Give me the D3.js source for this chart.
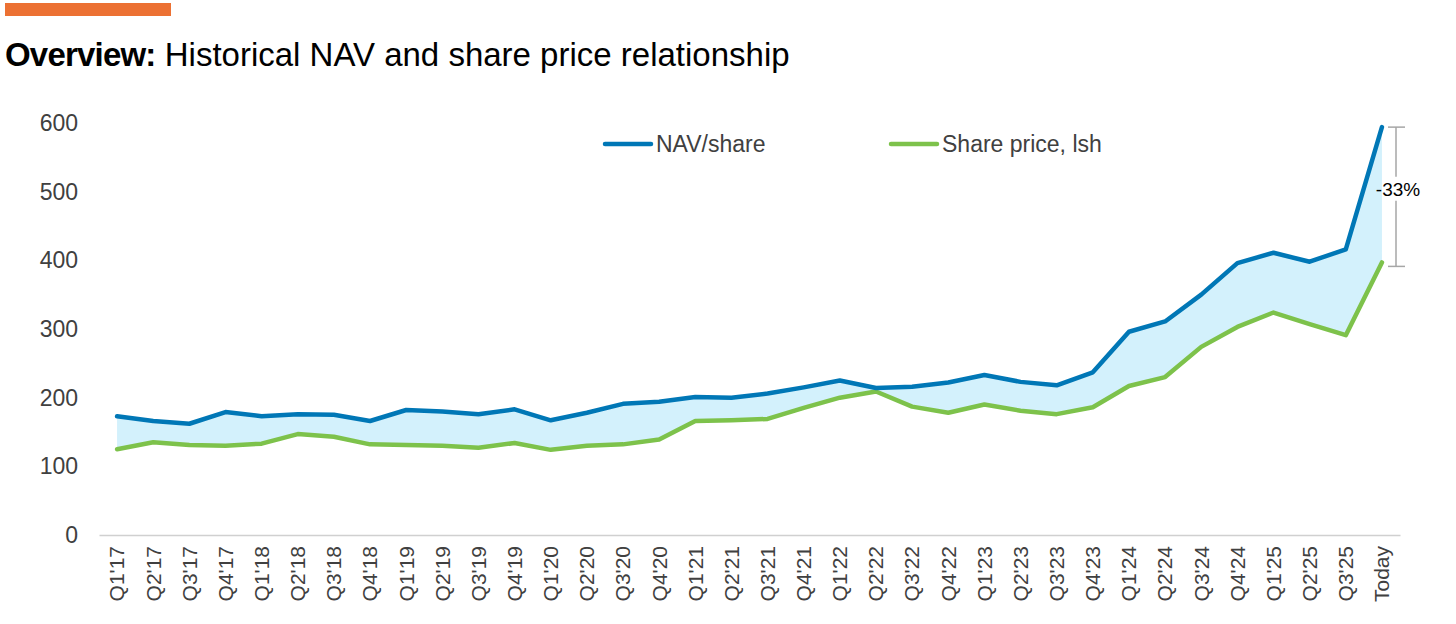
<!DOCTYPE html>
<html>
<head>
<meta charset="utf-8">
<script src="https://cdn.jsdelivr.net/npm/d3@7"></script>
<style>
    body { margin: 0; background: #fff; }
    svg { display: block; font-family: "Liberation Sans", Arial, sans-serif; }
</style>
</head>
<body>
<svg id="chart" width="1456" height="624"></svg>
<script>
// quarter labels on the x axis
var quarters = ["Q1'17","Q2'17","Q3'17","Q4'17","Q1'18","Q2'18","Q3'18","Q4'18",
    "Q1'19","Q2'19","Q3'19","Q4'19","Q1'20","Q2'20","Q3'20","Q4'20",
    "Q1'21","Q2'21","Q3'21","Q4'21","Q1'22","Q2'22","Q3'22","Q4'22",
    "Q1'23","Q2'23","Q3'23","Q4'23","Q1'24","Q2'24","Q3'24","Q4'24",
    "Q1'25","Q2'25","Q3'25","Today"];

// NAV per share
var navShare = [173,166,162,179,173,176,175,166,182,180,176,183,167,178,191,194,
    201,200,206,215,225,214,216,222,233,223,218,237,296,311,350,396,411,398,416,594];

// share price
var sharePrice = [125,135,131,130,133,147,143,132,131,130,127,134,124,130,132,139,
    166,167,169,185,200,209,187,178,190,181,176,186,217,230,274,303,324,307,291,397];

var yTicks = [0,100,200,300,400,500,600];
var discountLabel = "-33%";

var blue = "#0077b6";
var green = "#7dc24b";
var fill = "#d3f1fc";
var textColor = "#404040";

var svg = d3.select("#chart");

//orange bar and title
svg.append("rect")
    .attr("x", 5).attr("y", 3).attr("width", 166).attr("height", 13)
    .attr("fill", "#ec7133");

var title = svg.append("text")
    .attr("x", 5).attr("y", 66)
    .attr("font-size", 33)
    .attr("fill", "#000");
title.append("tspan").attr("font-weight", "bold").attr("letter-spacing", -0.8).text("Overview:");
title.append("tspan").text(" Historical NAV and share price relationship");

//scales
var x = d3.scaleBand()
    .domain(quarters)
    .range([99, 1400]);

var y = d3.scaleLinear()
    .domain([0, 600])
    .range([535, 123]);

var cx = d => x(d) + x.bandwidth() / 2;

//y axis labels (no axis line)
var yAxis = svg.append("g")
    .attr("transform", "translate(78,0)")
    .call(d3.axisLeft(y).tickValues(yTicks).tickSize(0).tickPadding(0));
yAxis.select(".domain").remove();
yAxis.selectAll("text")
    .attr("font-size", 23)
    .attr("fill", textColor)
    .attr("font-family", "Liberation Sans, Arial, sans-serif");

//x axis
var xAxis = svg.append("g")
    .attr("transform", "translate(0," + y(0) + ")")
    .call(d3.axisBottom(x).tickSize(0));
xAxis.select(".domain").attr("stroke", "#d0d0d0").attr("stroke-width", 1.5);
xAxis.selectAll("text")
    .attr("font-size", 21)
    .attr("fill", textColor)
    .attr("font-family", "Liberation Sans, Arial, sans-serif")
    .attr("text-anchor", "end")
    .attr("dy", "0.35em")
    .attr("transform", "translate(0,11) rotate(-90)")
    .attr("x", 0).attr("y", 0);

//shaded area between the two lines
var rows = quarters.map((q, i) => ({q: q, nav: navShare[i], price: sharePrice[i]}));

svg.append("path")
    .datum(rows)
    .attr("fill", fill)
    .attr("d", d3.area()
        .x(d => cx(d.q))
        .y0(d => y(d.price))
        .y1(d => y(d.nav)));

//lines
function drawLine(key, color) {
    svg.append("path")
        .datum(rows)
        .attr("fill", "none")
        .attr("stroke", color)
        .attr("stroke-width", 4.5)
        .attr("stroke-linejoin", "round")
        .attr("stroke-linecap", "round")
        .attr("d", d3.line().x(d => cx(d.q)).y(d => y(d[key])));
}
drawLine("price", green);
drawLine("nav", blue);

//legend
var legend = [
    {label: "NAV/share", color: blue, x: 605},
    {label: "Share price, lsh", color: green, x: 891}
];
legend.forEach(l => {
    svg.append("line")
        .attr("x1", l.x).attr("x2", l.x + 46)
        .attr("y1", 144).attr("y2", 144)
        .attr("stroke", l.color).attr("stroke-width", 4.5)
        .attr("stroke-linecap", "round");
    svg.append("text")
        .attr("x", l.x + 51).attr("y", 144)
        .attr("dy", "0.35em")
        .attr("font-size", 23)
        .attr("fill", textColor)
        .text(l.label);
});

//discount bracket at Today
var last = rows[rows.length - 1];
var bx = 1396;
var yTop = y(last.nav), yBot = y(last.price);
var yMid = (yTop + yBot) / 2 - 5;
var grey = "#a6a6a6";
var bracket = svg.append("g").attr("stroke", grey).attr("stroke-width", 1.5);
bracket.append("line").attr("x1", bx).attr("x2", bx).attr("y1", yTop).attr("y2", yMid - 13);
bracket.append("line").attr("x1", bx).attr("x2", bx).attr("y1", yMid + 11).attr("y2", yBot + 4);
bracket.append("line").attr("x1", bx - 8).attr("x2", bx + 9).attr("y1", yTop).attr("y2", yTop);
bracket.append("line").attr("x1", bx - 8).attr("x2", bx + 9).attr("y1", yBot + 4).attr("y2", yBot + 4);

svg.append("text")
    .attr("x", bx + 2).attr("y", yMid)
    .attr("dy", "0.35em")
    .attr("text-anchor", "middle")
    .attr("font-size", 19)
    .attr("fill", "#000")
    .text(discountLabel);
</script>
</body>
</html>
